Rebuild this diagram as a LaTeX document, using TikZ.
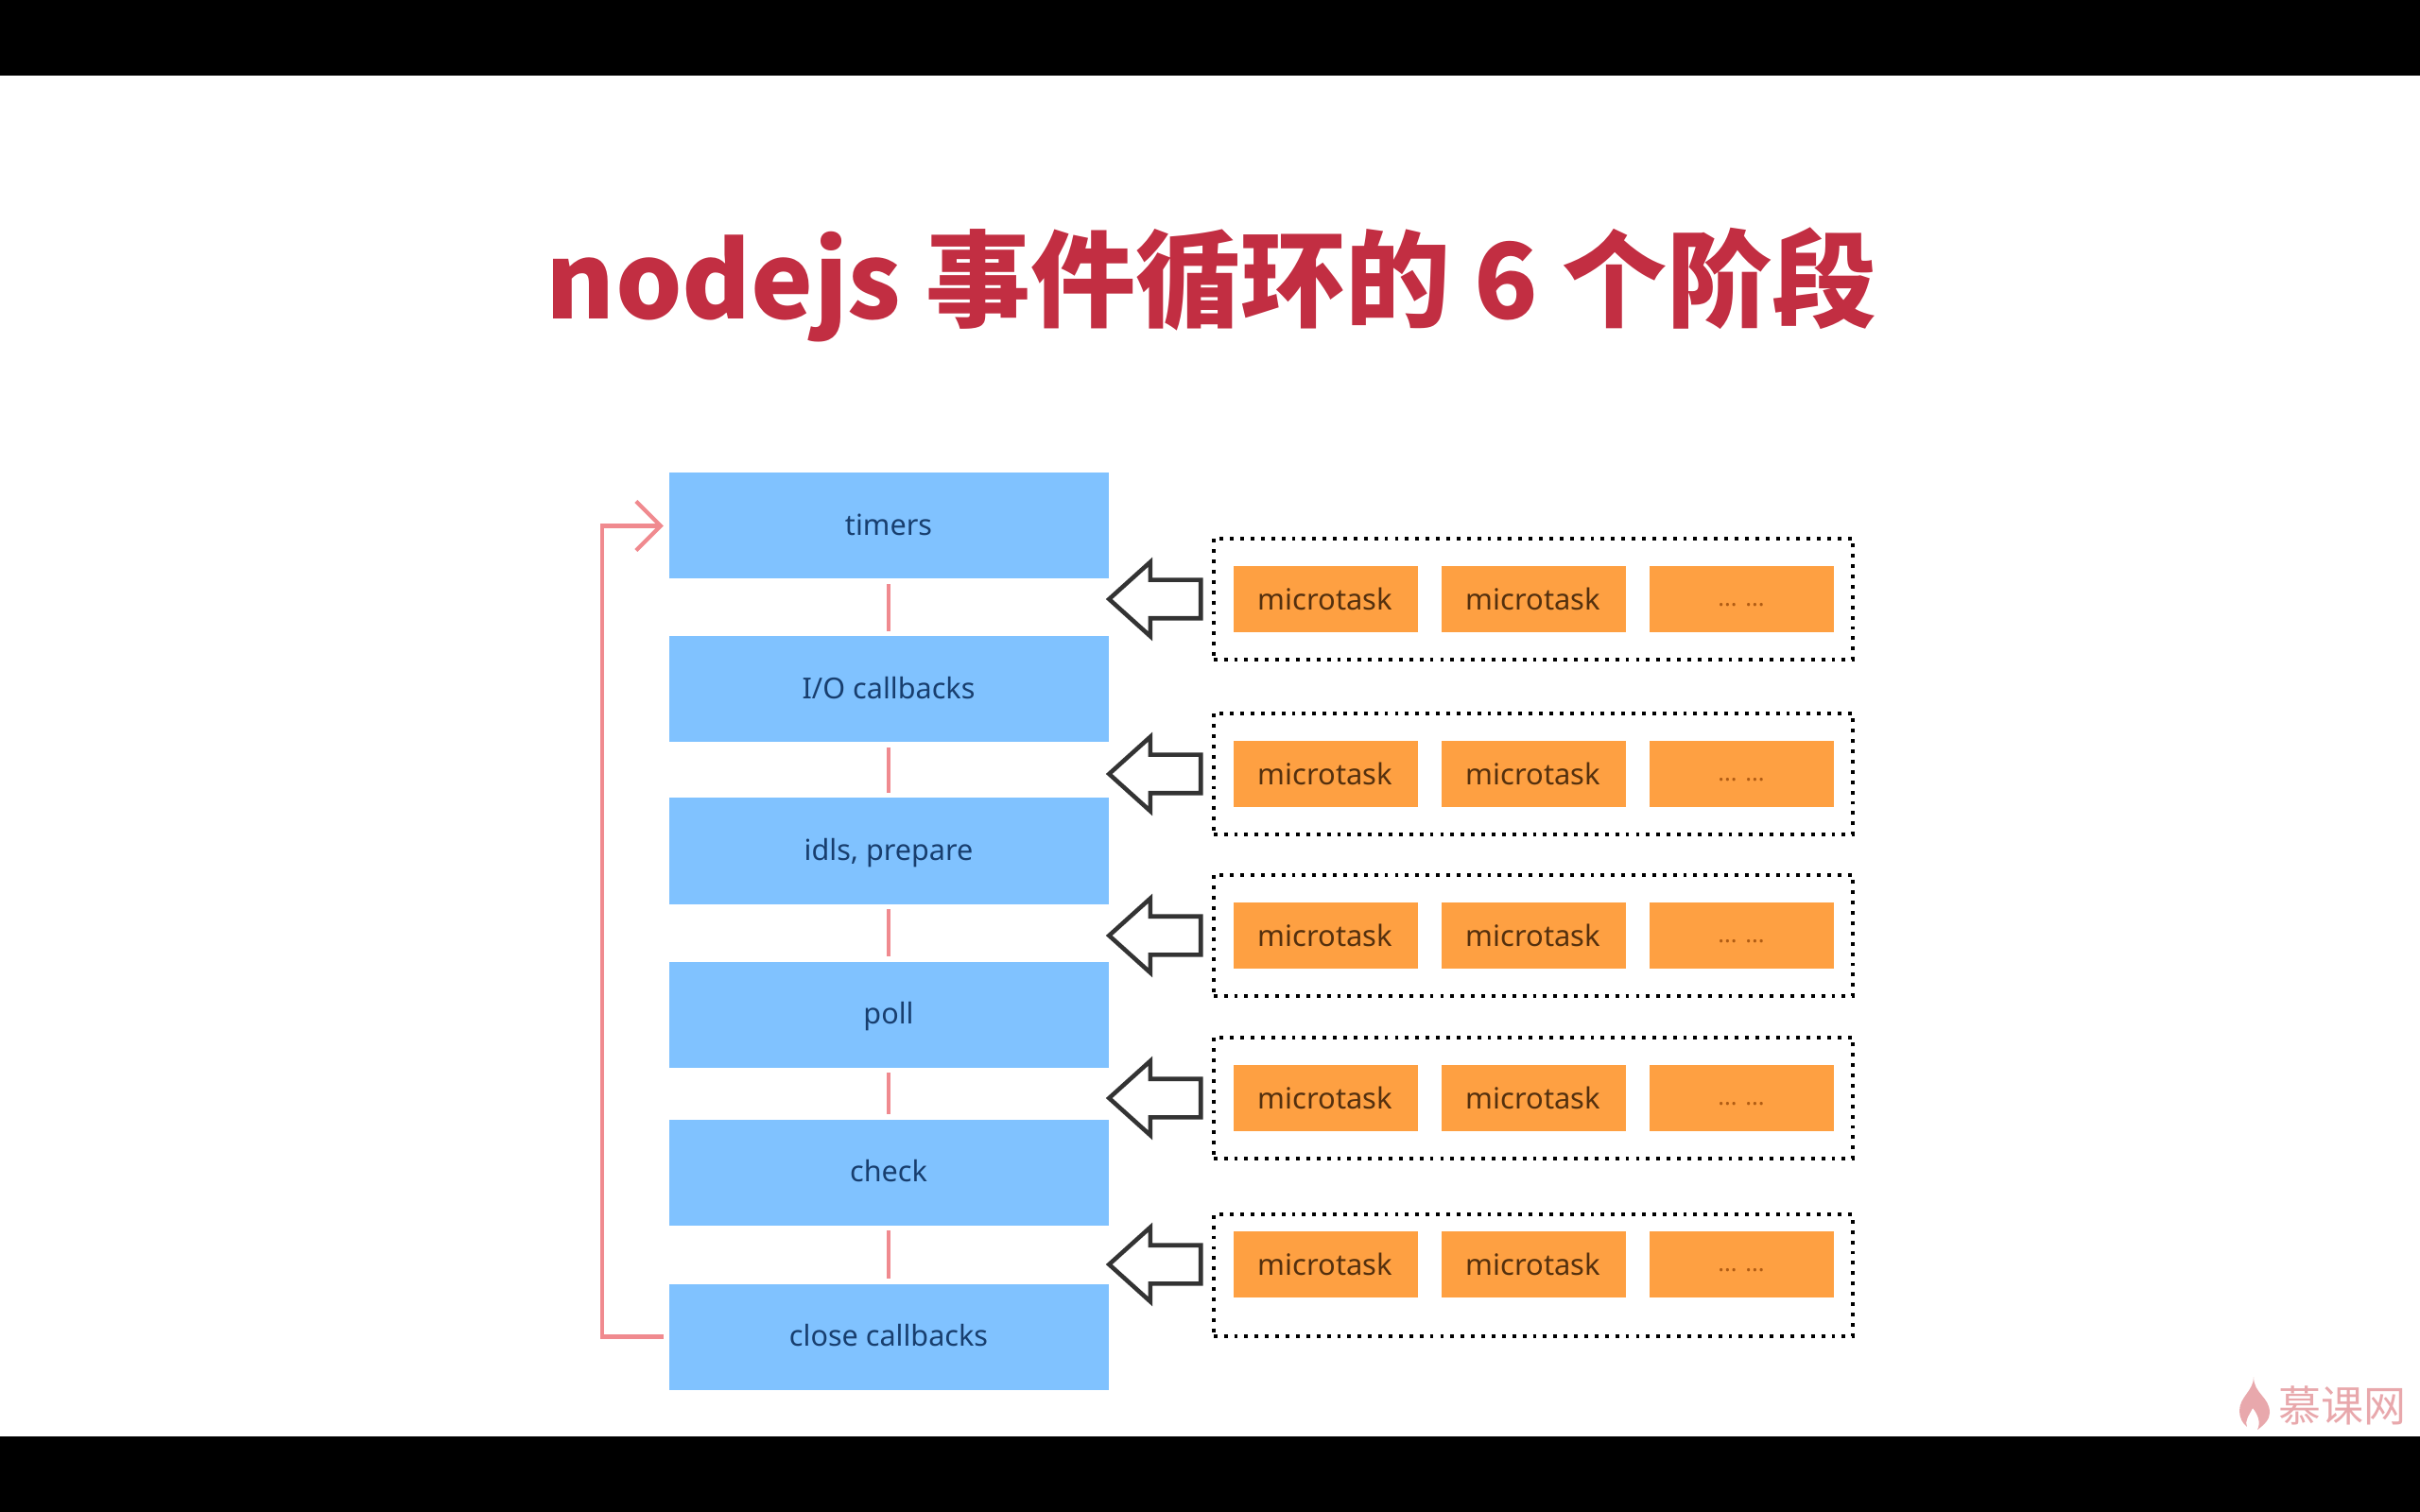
\documentclass[tikz,border=0pt]{standalone}
\usepackage{fontspec}
\usepackage{xcolor}
\usetikzlibrary{shapes,arrows,arrows.meta,positioning,fit,backgrounds}
\setmainfont{Noto Sans}
\newfontfamily\cjk{Noto Sans CJK SC}
\definecolor{phasefill}{RGB}{128, 194, 255}
\definecolor{phasetext}{RGB}{24, 62, 110}
\definecolor{taskfill}{RGB}{254, 160, 66}
\definecolor{tasktext}{RGB}{84, 48, 14}
\definecolor{dotstext}{RGB}{176, 92, 20}
\definecolor{linkred}{RGB}{240, 138, 143}
\definecolor{titlered}{RGB}{194, 46, 66}
\definecolor{markpink}{RGB}{232, 168, 172}
\tikzset{
  phase/.style={rectangle, fill=phasefill, text=phasetext, minimum width=4.65cm, minimum height=1.12cm, inner sep=0pt, text height=1.45ex, text depth=0.35ex, font=\fontsize{8.7pt}{11pt}\selectfont},
  task/.style={rectangle, fill=taskfill, text=tasktext, minimum width=1.95cm, minimum height=0.7cm, inner sep=0pt, font=\fontsize{8.8pt}{11pt}\selectfont},
  dots/.style={task, text=dotstext, font=\fontsize{7.2pt}{8pt}\selectfont, text height=4pt, text depth=0pt},
  queue/.style={draw=black, line width=1.2pt, dash pattern=on 1.1pt off 2pt, inner xsep=0.2cm, inner ysep=0.285cm},
  bigarrow/.style={single arrow, draw=black!80, line width=1.3pt, fill=white, shape border rotate=180, minimum height=0.97cm, minimum width=0.74cm, single arrow head extend=0.19cm, single arrow tip angle=84, inner xsep=0pt, inner ysep=0.18cm, outer sep=0pt},
  link/.style={draw=linkred, line width=1.2pt, shorten >=0.05cm, shorten <=0.05cm}
}
\begin{document}
\begin{tikzpicture}
            \useasboundingbox (0,0) rectangle (25.6,-16);
            % Bandas negras
            \fill[black] (0,0) rectangle (25.6,-0.8);
            \fill[black] (0,-15.2) rectangle (25.6,-16);

            % Titulo
            \node[text=titlered, font=\fontsize{31.6pt}{36pt}\selectfont\cjk\bfseries] (title) at (12.82,-3.01) {nodejs 事件循环的 6 个阶段};

            % Fases
            \node[phase] (timers) at (9.4,-5.565) {timers};
            \node[phase, below of=timers, node distance=1.73cm] (iocb) {I/O callbacks};
            \node[phase, below of=iocb, node distance=1.71cm] (idls) {idls, prepare};
            \node[phase, below of=idls, node distance=1.73cm] (poll) {poll};
            \node[phase, below of=poll, node distance=1.67cm] (check) {check};
            \node[phase, below of=check, node distance=1.74cm] (closecb) {close callbacks};

            % Microtareas
            \node[task] (mta) at (14.02,-6.34) {microtask};
            \node[task, right of=mta, node distance=2.2cm] (mtb) {microtask};
            \node[dots, right of=mtb, node distance=2.2cm] (mtc) {... ...};
            \node[task, below of=mta, node distance=1.85cm] (mtd) {microtask};
            \node[task, right of=mtd, node distance=2.2cm] (mte) {microtask};
            \node[dots, right of=mte, node distance=2.2cm] (mtf) {... ...};
            \node[task, below of=mtd, node distance=1.71cm] (mtg) {microtask};
            \node[task, right of=mtg, node distance=2.2cm] (mth) {microtask};
            \node[dots, right of=mth, node distance=2.2cm] (mti) {... ...};
            \node[task, below of=mtg, node distance=1.72cm] (mtj) {microtask};
            \node[task, right of=mtj, node distance=2.2cm] (mtk) {microtask};
            \node[dots, right of=mtk, node distance=2.2cm] (mtl) {... ...};
            \node[task, below of=mtj, node distance=1.76cm] (mtm) {microtask};
            \node[task, right of=mtm, node distance=2.2cm] (mtn) {microtask};
            \node[dots, right of=mtn, node distance=2.2cm] (mto) {... ...};

            % Colas
            \node[queue, fit=(mta)(mtc)] (queuea) {};
            \node[queue, fit=(mtd)(mtf)] (queueb) {};
            \node[queue, fit=(mtg)(mti)] (queuec) {};
            \node[queue, fit=(mtj)(mtl)] (queued) {};
            \node[queue, fit=(mtm)(mto), yshift=-0.115cm] (queuee) {};

            % Flechas de bloque
            \node[bigarrow, left of=queuea, node distance=3.89cm] (inta) {};
            \node[bigarrow, left of=queueb, node distance=3.89cm] (intb) {};
            \node[bigarrow, left of=queuec, node distance=3.89cm] (intc) {};
            \node[bigarrow, left of=queued, node distance=3.89cm] (intd) {};
            \node[bigarrow, left of=mtn, node distance=3.89cm] (inte) {};

            % Enlaces
            \draw[link] (timers) -- (iocb);
            \draw[link] (iocb) -- (idls);
            \draw[link] (idls) -- (poll);
            \draw[link] (poll) -- (check);
            \draw[link] (check) -- (closecb);
            \draw[link, -{Straight Barb[length=2.6mm, width=5.2mm]}] (closecb.west) -- ++(-0.7,0) |- (timers.west);

            % Marca
            \node[text=markpink, font=\fontsize{12.8pt}{14pt}\selectfont\cjk] (mark) at (24.78,-14.875) {慕课网};
            \fill[markpink] (23.84,-14.57) .. controls (23.84,-14.75) and (24.01,-14.78) .. (24.01,-14.95) .. controls (24.01,-15.02) and (23.95,-15.08) .. (23.88,-15.13) .. controls (23.92,-15.05) and (23.88,-14.96) .. (23.83,-14.9) .. controls (23.79,-14.98) and (23.74,-15.04) .. (23.77,-15.1) .. controls (23.72,-15.06) and (23.69,-15.0) .. (23.69,-14.93) .. controls (23.69,-14.78) and (23.84,-14.72) .. (23.84,-14.57) -- cycle;
        \end{tikzpicture}
\end{document}
